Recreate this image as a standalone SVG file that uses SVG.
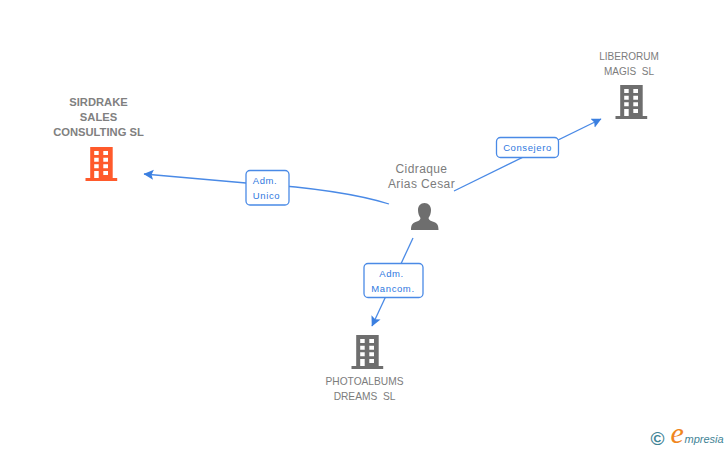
<svg xmlns="http://www.w3.org/2000/svg" width="728" height="450" viewBox="0 0 728 450">
<style>
.lbl{font-family:"Liberation Sans",Arial,sans-serif;font-size:10.200px;fill:#7c7c7c;text-anchor:middle}
.bold{font-size:11.200px;font-weight:bold;fill:#808080}
.pers{font-family:"Liberation Sans",Arial,sans-serif;font-size:12px;fill:#7c7c7c;text-anchor:middle;letter-spacing:.4px}
.edge{font-family:"Liberation Sans",Arial,sans-serif;font-size:9.500px;fill:#2f78e0;text-anchor:middle;letter-spacing:.6px}
.box{fill:#fff;stroke:#4a8ae6;stroke-width:1.300}
.line{fill:none;stroke:#4a8ae6;stroke-width:1.300}
.bld{fill-rule:evenodd}
</style>
<defs>
<marker id="arr" markerUnits="userSpaceOnUse" markerWidth="12" markerHeight="12" refX="9.500" refY="5" orient="auto"><path d="M0 0L10 5L0 10L2 5Z" fill="#3b7fe0"/></marker>
<path id="building" class="bld" d="M4.700 0H27.200V31H31.700V34H0V31H4.700ZM8.700 4V8H13.200V4ZM17.800 4V8H22.500V4ZM8.700 10.700V14.700H13.200V10.700ZM17.800 10.700V14.700H22.500V10.700ZM8.700 17.300V21.300H13.200V17.300ZM17.800 17.300V21.300H22.500V17.300ZM8.700 24V31H13.200V24ZM17.800 24V28H22.500V24Z"/>
</defs>
<g id="connectors">
<path class="line" marker-end="url(#arr)" d="M389 204C360 195 310 187 246 183L144 174"/>
<path class="line" marker-end="url(#arr)" d="M454 191L601 119"/>
<path class="line" marker-end="url(#arr)" d="M413 238L372 326"/>
</g>
<g id="node-sirdrake">
<text class="lbl bold" x="98.500" y="106">SIRDRAKE</text>
<text class="lbl bold" x="98.500" y="121">SALES</text>
<text class="lbl bold" x="98.500" y="136">CONSULTING SL</text>
<use href="#building" x="85.500" y="147" fill="#ff5a2b"/>
</g>
<g id="node-liberorum">
<text class="lbl" x="629" y="60" style="font-size:10px">LIBERORUM</text>
<text class="lbl" x="629" y="75" xml:space="preserve" style="font-size:10px">MAGIS  SL</text>
<use href="#building" x="615.500" y="85" fill="#6e6e6e"/>
</g>
<g id="node-photoalbums">
<use href="#building" x="351.500" y="335" fill="#6e6e6e"/>
<text class="lbl" x="364.500" y="385">PHOTOALBUMS</text>
<text class="lbl" x="364.500" y="400" xml:space="preserve">DREAMS  SL</text>
</g>
<g id="node-cidraque">
<text class="pers" x="421.500" y="173">Cidraque</text>
<text class="pers" x="421.500" y="188">Arias Cesar</text>
<path fill="#6e6e6e" d="M424.500 203C428.500 203 431 206 431 210C431 213 430 216 428.500 218C428.500 220 431 221 434 222C437 223 438.500 225 438.500 230H411C411 225 412.500 223 415.500 222C418.500 221 420.500 220 420.500 218C419 216 418 213 418 210C418 206 420.500 203 424.500 203Z"/>
</g>
<g id="edge-adm-unico">
<rect class="box" x="246" y="170.500" width="43" height="34.500" rx="4"/>
<text class="edge" x="265" y="184">Adm.</text>
<text class="edge" x="266.500" y="199">Unico</text>
</g>
<g id="edge-consejero">
<rect class="box" x="496.500" y="137.500" width="62" height="20" rx="4"/>
<text class="edge" x="527.500" y="151">Consejero</text>
</g>
<g id="edge-adm-mancom">
<rect class="box" x="364" y="263.500" width="59" height="34" rx="4"/>
<text class="edge" x="391.500" y="277">Adm.</text>
<text class="edge" x="393" y="292">Mancom.</text>
</g>
<g id="logo">
<text x="657.500" y="444.500" font-family="'Liberation Sans',sans-serif" font-size="19" font-weight="bold" fill="#3f8496" text-anchor="middle">©</text>
<text x="670.500" y="443" font-family="'Liberation Serif',serif" font-style="italic" font-size="30" fill="#f0861e">e</text>
<text x="684.500" y="443" font-family="'Liberation Sans',sans-serif" font-style="italic" font-size="11" fill="#3f8496">mpresia</text>
</g>
</svg>
